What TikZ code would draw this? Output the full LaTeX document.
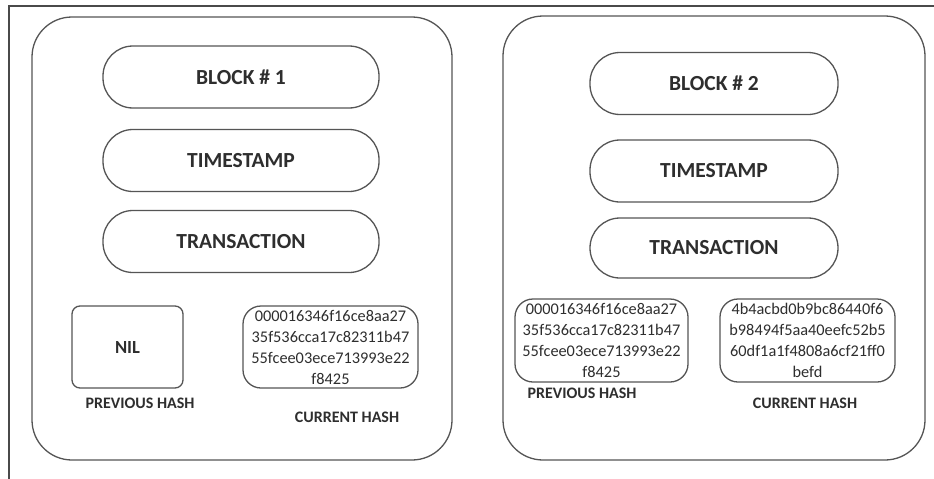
\documentclass[tikz,border=0pt]{standalone}
\usepackage{fontspec}
\setmainfont{Carlito}
\definecolor{linec}{HTML}{555555}
\definecolor{framec}{HTML}{4A4A4A}
\definecolor{textc}{HTML}{2E2E2E}
\begin{document}
\begin{tikzpicture}[x=1pt,y=-1pt,
  outerbox/.style={draw=linec,line width=1.3pt,rounded corners=40pt},
  pill/.style={draw=linec,line width=1.3pt,rounded corners=30pt,minimum width=276pt,minimum height=62pt,inner sep=0pt,font=\bfseries\fontsize{21.5}{24}\selectfont,text=textc},
  hashbox/.style={draw=linec,line width=1.3pt,rounded corners=18pt,minimum width=175pt,minimum height=82pt,inner sep=0pt,align=center,font=\fontsize{16.3}{21}\selectfont,text=textc},
  nilbox/.style={draw=linec,line width=1.3pt,rounded corners=8pt,minimum width=111pt,minimum height=82pt,inner sep=0pt,font=\bfseries\fontsize{18.5}{20}\selectfont,text=textc},
  caption/.style={inner sep=0pt,font=\bfseries\fontsize{16}{18}\selectfont,text=textc}]
\useasboundingbox (0,0) rectangle (934,479);
\fill[white] (0,0) rectangle (934,479);
\draw[framec,line width=2pt] (9,479) -- (9,6) -- (934,6);
% block 1
\draw[outerbox] (32,17) rectangle (452,460);
\node[pill] (b1) at (241,77) {BLOCK \# 1};
\node[pill] (t1) at (241,160.5) {TIMESTAMP};
\node[pill] (x1) at (241,241.5) {TRANSACTION};
\node[nilbox] (p1) at (127.5,347) {NIL};
\node[hashbox] (c1) at (330.5,347) {000016346f16ce8aa27\\35f536cca17c82311b47\\55fcee03ece713993e22\\f8425};
\node[caption] (pl1) at (140,403) {PREVIOUS HASH};
\node[caption] (cl1) at (347,417) {CURRENT HASH};
% block 2
\draw[outerbox] (503,16) rectangle (925,460);
\node[pill,minimum width=248pt] (b2) at (714,83.5) {BLOCK \# 2};
\node[pill,minimum width=248pt] (t2) at (714,171) {TIMESTAMP};
\node[pill,minimum width=248pt,minimum height=60pt] (x2) at (714,248) {TRANSACTION};
\node[hashbox,minimum width=173pt,minimum height=83pt] (p2) at (601.5,340.5) {000016346f16ce8aa27\\35f536cca17c82311b47\\55fcee03ece713993e22\\f8425};
\node[hashbox,minimum height=83pt] (c2) at (807.5,340.5) {4b4acbd0b9bc86440f6\\b98494f5aa40eefc52b5\\60df1a1f4808a6cf21ff0\\befd};
\node[caption] (pl2) at (582,393) {PREVIOUS HASH};
\node[caption] (cl2) at (805,403) {CURRENT HASH};
\end{tikzpicture}
\end{document}
